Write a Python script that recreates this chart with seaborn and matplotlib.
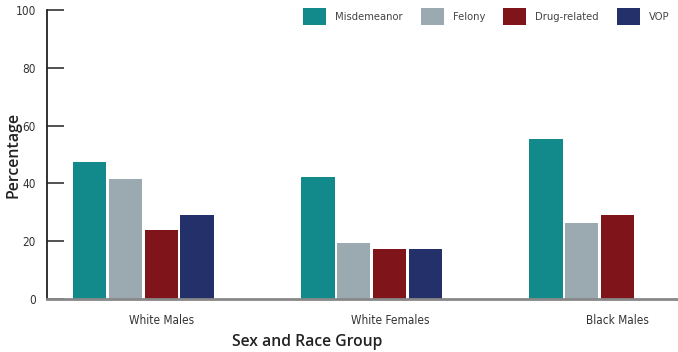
import matplotlib
matplotlib.use("Agg")
import matplotlib.pyplot as plt
import seaborn as sns
import numpy as np
import pandas as pd

groups = ["White Males", "White Females", "Black Males"]
offenses = ["Misdemeanor", "Felony", "Drug-related", "VOP"]
misdemeanor = [47.5, 42.2, 55.5]
felony = [41.5, 19.5, 26.4]
drug_related = [23.8, 17.3, 29.2]
vop = [29.0, 17.3, np.nan]
colors = ["#128a8c", "#9ba9b1", "#7f141b", "#243069"]

# long form for seaborn
df = pd.DataFrame({
    "group": groups * 4,
    "offense": np.repeat(offenses, 3),
    "pct": misdemeanor + felony + drug_related + vop,
})

sns.set_style("white")
plt.rcParams["font.family"] = ["DejaVu Sans"]
plt.rcParams["font.stretch"] = "condensed"

fig = plt.figure(figsize=(6.78, 3.52), dpi=100)
ax = fig.add_axes([47 / 678, 53 / 352, 631 / 678, 289 / 352])

sns.barplot(data=df, x="group", y="pct", hue="offense", order=groups,
            hue_order=offenses, palette=colors, saturation=1, width=0.627,
            gap=0.07, linewidth=0, errorbar=None, ax=ax)

ax.set_xlim(-0.423, 2.344)
ax.set_ylim(0, 100)
ax.set_yticks([0, 20, 40, 60, 80, 100])
ax.set_xticks([0.08, 1.08, 2.08])
ax.set_xticklabels(groups)

ax.tick_params(axis="y", direction="in", length=12, width=1.2, color="#333333",
               pad=8, labelsize=8.5, labelcolor="#333333", left=True)
ax.tick_params(axis="x", length=0, pad=11, labelsize=8.5, labelcolor="#333333")

for s in ["top", "right"]:
    ax.spines[s].set_visible(False)
ax.spines["left"].set_color("#222222")
ax.spines["left"].set_linewidth(1.3)
ax.spines["bottom"].set_color("#888888")
ax.spines["bottom"].set_linewidth(2)

ax.set_xlabel("Sex and Race Group", fontsize=11.3, fontweight="semibold",
              family="Open Sans", fontstretch="normal", color="#222222")
ax.xaxis.set_label_coords(260 / 631, -0.12)
ax.set_ylabel("Percentage", fontsize=11.5, fontweight="semibold",
              family="Open Sans", fontstretch="normal", color="#222222")
ax.yaxis.set_label_coords(-0.04, 0.5)

leg = ax.legend(ncol=4, loc="upper left", bbox_to_anchor=(256 / 631, 1.007),
                frameon=False, fontsize=8, handlelength=2.07,
                handleheight=1.98, handletextpad=0.8, columnspacing=1.65,
                borderaxespad=0, borderpad=0, labelcolor="#444444")

fig.savefig("out.png", dpi=100)
